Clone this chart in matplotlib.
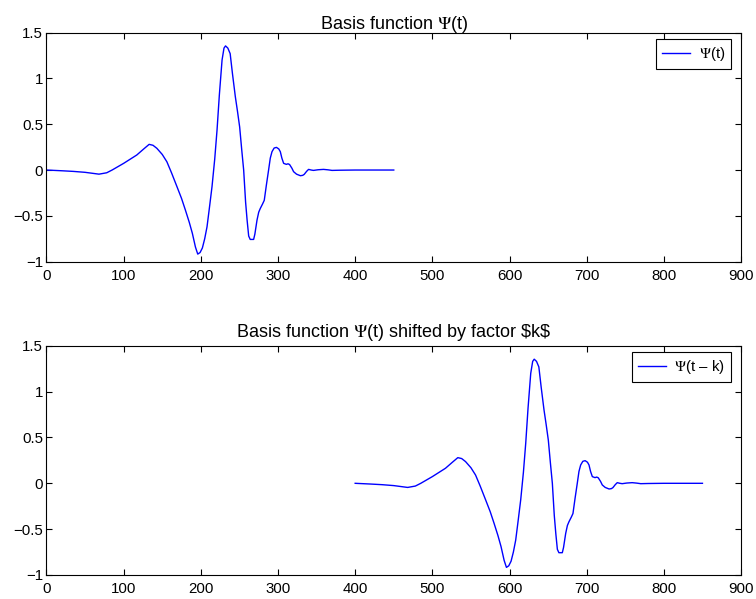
import numpy as np
import matplotlib
matplotlib.use("Agg")
import matplotlib.pyplot as plt

plt.rcParams['font.family'] = ['Liberation Sans', 'DejaVu Sans']
plt.rcParams['font.size'] = 10.8
plt.rcParams['mathtext.fontset'] = 'stix'

# samples of the basis function
t = np.array([0, 20, 35, 50, 68, 78, 85, 100, 117, 126, 133, 138, 143, 150, 156,
              162, 169, 175, 180, 185, 189, 193, 196, 199, 202, 205, 208, 211,
              214.5, 218, 221, 224, 227.5, 230, 232, 235, 238, 241, 244.7, 247.5,
              250.3, 253, 255.5, 258, 260, 262, 264, 268.4, 270, 272.8, 275, 277,
              280, 282.2, 285, 287.8, 290, 292.2, 295, 298, 301, 303, 305, 307.3,
              310.8, 313, 315, 318, 320.2, 324, 329, 332, 334, 337, 339.6, 343,
              346, 352, 359, 365, 370, 380, 400, 450])
psi = np.array([0, -0.008, -0.015, -0.025, -0.045, -0.03, 0.0, 0.073, 0.164, 0.23,
                0.28, 0.27, 0.237, 0.17, 0.09, -0.03, -0.18, -0.31, -0.437, -0.57,
                -0.69, -0.84, -0.917, -0.90, -0.85, -0.75, -0.62, -0.42, -0.18, 0.12,
                0.437, 0.82, 1.2, 1.33, 1.354, 1.33, 1.27, 1.05, 0.80, 0.64, 0.47,
                0.22, 0.0, -0.35, -0.55, -0.72, -0.757, -0.757, -0.70, -0.546, -0.46,
                -0.42, -0.37, -0.33, -0.16, 0.0, 0.13, 0.2, 0.24, 0.247, 0.23, 0.20,
                0.13, 0.073, 0.062, 0.068, 0.06, 0.02, -0.018, -0.045, -0.062,
                -0.058, -0.047, -0.015, 0.007, 0.0, -0.004, 0.003, 0.007, 0.002,
                -0.004, -0.002, 0.0, 0.0])
k = 400

xticks = [0, 100, 200, 300, 400, 500, 600, 700, 800, 900]
yticks = [-1, -0.5, 0, 0.5, 1, 1.5]
ylabels = ["−1", "−0.5", "0", "0.5", "1", "1.5"]

fig = plt.figure(figsize=(7.56, 5.99), dpi=100)
ax1 = fig.add_axes([0.0615, 0.5631, 0.9187, 0.3826])
ax2 = fig.add_axes([0.0615, 0.0401, 0.9187, 0.3826])

for ax, x, lab, title, tpad in [
        (ax1, t, r"$\Psi$(t)", r"Basis function $\Psi$(t)", 2.5),
        (ax2, t + k, r"$\Psi$(t – k)",
         r"Basis function $\Psi$(t) shifted by factor \$k\$", 6)]:
    ax.plot(x, psi, color=(0, 0, 1), lw=1.0, label=lab)
    ax.set_xlim(0, 900)
    ax.set_ylim(-1, 1.5)
    ax.set_xticks(xticks)
    ax.set_yticks(yticks)
    ax.set_yticklabels(ylabels)
    ax.tick_params(direction='in', top=True, right=True, length=4, width=0.8)
    ax.tick_params(axis='x', pad=5)
    ax.tick_params(axis='y', pad=2.5)
    ax.set_title(title, pad=tpad)
    leg = ax.legend(loc='upper right', bbox_to_anchor=(1 - 10 / 695, 1 - 6.5 / 229),
                    borderaxespad=0, fancybox=False, edgecolor='black',
                    framealpha=1, handlelength=1.9, handletextpad=0.55,
                    borderpad=0.4)
    leg.get_frame().set_linewidth(0.8)

fig.savefig("out.png", dpi=100)
